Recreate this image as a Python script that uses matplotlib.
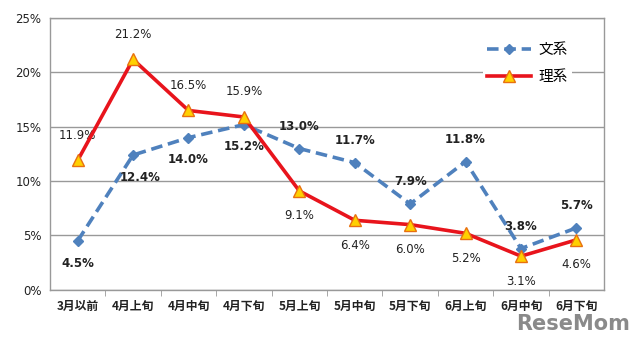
import matplotlib
matplotlib.use("Agg")
import matplotlib.pyplot as plt
import numpy as np

plt.rcParams['font.family'] = ['Noto Sans CJK JP', 'DejaVu Sans']

categories = ["3月以前", "4月上旬", "4月中旬", "4月下旬", "5月上旬",
              "5月中旬", "5月下旬", "6月上旬", "6月中旬", "6月下旬"]
bunkei = [4.5, 12.4, 14.0, 15.2, 13.0, 11.7, 7.9, 11.8, 3.8, 5.7]
rikei = [11.9, 21.2, 16.5, 15.9, 9.1, 6.4, 6.0, 5.2, 3.1, 4.6]
# label placement: +1 above, -1 below
bunkei_pos = [-1, -1, -1, -1, 1, 1, 1, 1, 1, 1]
rikei_pos = [1, 1, 1, 1, -1, -1, -1, -1, -1, -1]
yticks = [0, 5, 10, 15, 20, 25]

fig = plt.figure(figsize=(6.4, 3.41), dpi=100)
ax = fig.add_axes([0.078, 0.150, 0.866, 0.797])
x = np.arange(len(categories))

ax.plot(x, bunkei, color="#4F81BD", lw=2.6, ls=(0, (3.2, 1.6)), marker="D",
        ms=5.5, mfc="#4F81BD", mec="#4F81BD", label="文系", zorder=3)
ax.plot(x, rikei, color="#E8141C", lw=2.6, marker="^", ms=9,
        mfc="#FFD000", mec="#E87010", mew=1, label="理系", zorder=4)

num_font = "DejaVu Sans"
for i, (v, p) in enumerate(zip(bunkei, bunkei_pos)):
    dx = 5 if i == 1 else 0
    ax.annotate(f"{v:.1f}%", (i, v), xytext=(dx, 16 * p), textcoords="offset points",
                ha="center", va="center", fontsize=8.5, fontweight="bold",
                color="#222222", family=num_font)
for i, (v, p) in enumerate(zip(rikei, rikei_pos)):
    ax.annotate(f"{v:.1f}%", (i, v), xytext=(0, 18 * p), textcoords="offset points",
                ha="center", va="center", fontsize=8.5, color="#222222", family=num_font)

ax.set_xlim(-0.5, len(categories) - 0.5)
ax.set_ylim(0, 25)
ax.set_yticks(yticks)
ax.set_yticklabels([f"{t}%" for t in yticks], fontsize=8.5, color="#222222",
                   family=num_font)
ax.grid(axis="y", color="#999999", lw=1)
ax.set_axisbelow(True)

ax.set_xticks(x)
ax.set_xticklabels(categories, fontsize=8.5, fontweight="bold", color="#222222")
ax.tick_params(axis="x", which="major", length=0, pad=7)
ax.set_xticks(np.arange(0.5, len(categories) - 0.5, 1), minor=True)
ax.tick_params(axis="x", which="minor", length=4, color="#999999", direction="out")
ax.tick_params(axis="y", length=0, pad=6)
for s in ax.spines.values():
    s.set_color("#999999")
    s.set_linewidth(1)

leg = ax.legend(loc="upper right", bbox_to_anchor=(0.955, 0.95), frameon=True,
                fontsize=10.5, handlelength=3.0, borderpad=0.3, labelspacing=0.9,
                handletextpad=0.5, framealpha=1)
leg.get_frame().set_edgecolor("none")
leg.get_frame().set_facecolor("white")

fig.text(0.985, 0.02, "ReseMom", ha="right", va="bottom", fontsize=15,
         fontweight="bold", color="#8a8a8a", family="DejaVu Sans")

fig.savefig("out.png", dpi=100)
